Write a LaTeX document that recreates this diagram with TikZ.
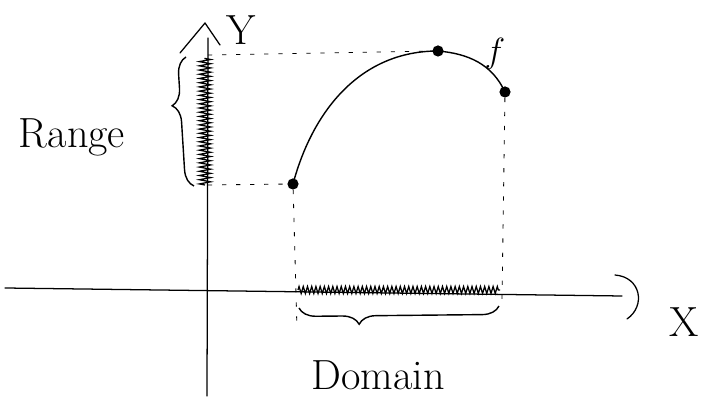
\documentclass[tikz,border=0pt]{standalone}
\usepackage{tikz}
\usetikzlibrary{decorations.pathreplacing, decorations.pathmorphing, positioning}

\begin{document}
\begin{tikzpicture}[
    x=0.025cm, y=-0.025cm,
    axis/.style={line width=0.9pt, line cap=round, line join=round},
    guide/.style={line width=0.6pt, dash pattern=on 3pt off 7pt},
    curve/.style={line width=1pt},
    dot/.style={circle, fill=black, inner sep=0pt, minimum size=0.28cm},
    hatch/.style={decorate, line width=0.9pt},
    curly/.style={decorate, line width=1pt},
    hand/.style={font=\fontsize{30}{32}\selectfont}
]
\useasboundingbox (0,0) rectangle (706,398);

% Axes
\coordinate (xstart) at (5,288);
\coordinate (xend) at (622,296);
\coordinate (ystart) at (207,396);
\coordinate (yend) at (208,38);
\draw[axis] (xstart) -- (xend);
\draw[axis] (ystart) -- (yend);
\draw[axis] (180,53) -- (205,23) -- (220,45);
\draw[axis] (615,275) .. controls (641,277) and (646,306) .. (627,319);

\node[hand] (ylab) at (241,30) {Y};
\node[hand] (xlab) at (684,322) {X};

% Function and points
\node[dot] (low) at (293,184) {};
\node[dot] (top) at (438,51) {};
\node[dot] (end) at (505,92) {};
\draw[curve] (low.center) to[out=75,in=180] (top.center) to[out=-5,in=115] (end.center);
\node[hand] (flab) at (495,54) {$f$};

% Guides
\coordinate (ytop) at (208,55);
\coordinate (ybot) at (208,185);
\coordinate (dleft) at (297,330);
\coordinate (dright) at (502,300);
\draw[guide] (ytop) -- (top);
\draw[guide] (ybot) -- (low);
\draw[guide] (low) -- (dleft);
\draw[guide] (end) -- (dright);

% Range
\draw[hatch, decoration={zigzag, amplitude=4pt, segment length=3pt}] (205,185) -- (205,58);
\draw[curly, decoration={brace, amplitude=12pt, aspect=0.63}] (194,186) -- (186,57);
\node[hand] (range) at (72,137) {Range};

% Domain
\draw[hatch, decoration={zigzag, amplitude=2.5pt, segment length=3pt}] (298,290) -- (500,290);
\draw[curly, decoration={brace, mirror, amplitude=12pt, aspect=0.3}] (299,308) -- (499,306);
\node[hand] (domain) at (378,375) {Domain};

\end{tikzpicture}
\end{document}
